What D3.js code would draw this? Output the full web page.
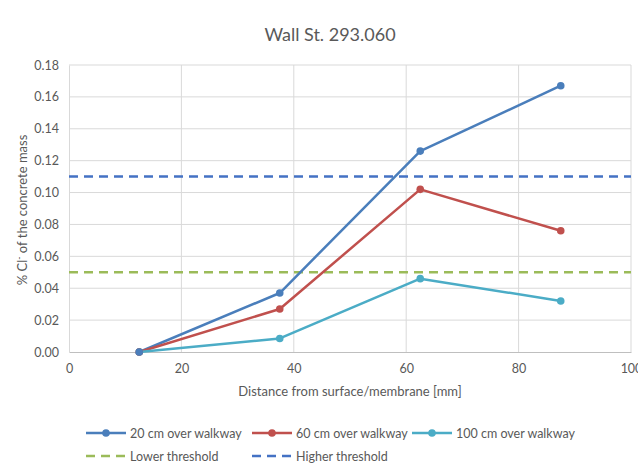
<!DOCTYPE html>
<html><head><meta charset="utf-8">
<script src="https://cdn.jsdelivr.net/npm/d3@7"></script>
<style>body{margin:0;background:#fff}svg{display:block;font-family:Lato,"Open Sans",sans-serif}</style>
</head><body>
<script>
const distances = [12.5, 37.5, 62.5, 87.5];
const s20 = [0.000, 0.037, 0.126, 0.167];
const s60 = [0.000, 0.027, 0.102, 0.076];
const s100 = [0.000, 0.0085, 0.046, 0.032];
const lowerThreshold = 0.05;
const higherThreshold = 0.11;
const xTicks = [0, 20, 40, 60, 80, 100];
const yTicks = [0, 0.02, 0.04, 0.06, 0.08, 0.10, 0.12, 0.14, 0.16, 0.18];
const seriesNames = ["20 cm over walkway", "60 cm over walkway", "100 cm over walkway"];
const thresholdNames = ["Lower threshold", "Higher threshold"];

const W = 638, H = 464;
const svg = d3.select("body").append("svg").attr("width", W).attr("height", H);
const x = d3.scaleLinear().domain([0, 100]).range([69, 631]);
const y = d3.scaleLinear().domain([0, 0.18]).range([352, 65]);
const txt = "#595959", grid = "#d9d9d9";

// gridlines
svg.append("g").selectAll("line").data(yTicks.slice(1)).join("line")
  .attr("x1", x(0)).attr("x2", x(100)).attr("y1", d => y(d)).attr("y2", d => y(d))
  .attr("stroke", grid).attr("stroke-width", 1);
svg.append("g").selectAll("line").data(xTicks.slice(1)).join("line")
  .attr("x1", d => x(d)).attr("x2", d => x(d)).attr("y1", y(0)).attr("y2", y(0.18))
  .attr("stroke", grid).attr("stroke-width", 1);

// axes
const xa = svg.append("g").attr("transform", `translate(0,${y(0)})`)
  .call(d3.axisBottom(x).tickValues(xTicks).tickSize(0).tickPadding(12).tickFormat(d3.format("d")));
xa.select(".domain").attr("stroke", "#bfbfbf");
const ya = svg.append("g").attr("transform", `translate(${x(0)},0)`)
  .call(d3.axisLeft(y).tickValues(yTicks).tickSize(0).tickPadding(10).tickFormat(d3.format(".2f")));
ya.select(".domain").attr("stroke", "#d9d9d9");
svg.selectAll(".tick text").attr("fill", txt).attr("font-size", 12.5).attr("font-family", "Lato, sans-serif");

// titles
svg.append("text").attr("x", 330).attr("y", 41).attr("text-anchor", "middle")
  .attr("fill", txt).attr("font-size", 18).text("Wall St. 293.060");
svg.append("text").attr("x", 350).attr("y", 396).attr("text-anchor", "middle")
  .attr("fill", txt).attr("font-size", 13).text("Distance from surface/membrane [mm]");
const yl = svg.append("text").attr("transform", `translate(27,${210}) rotate(-90)`)
  .attr("text-anchor", "middle").attr("fill", txt).attr("font-size", 13);
yl.append("tspan").text("% Cl");
yl.append("tspan").attr("dy", -5).attr("font-size", 9).text("-");
yl.append("tspan").attr("dy", 5).text(" of the concrete mass");

// thresholds
const thresholds = [
  {v: lowerThreshold, c: "#9bbb59"},
  {v: higherThreshold, c: "#4472c4"}
];
svg.append("g").selectAll("line").data(thresholds).join("line")
  .attr("x1", x(0)).attr("x2", x(100)).attr("y1", d => y(d.v)).attr("y2", d => y(d.v))
  .attr("stroke", d => d.c).attr("stroke-width", 2.5).attr("stroke-dasharray", "9,6");

// series
const colors = ["#4a7ebb", "#c0504d", "#4bacc6"];
const series = [s20, s60, s100];
const line = d3.line().x((d, i) => x(distances[i])).y(d => y(d));
series.forEach((s, k) => {
  svg.append("path").datum(s).attr("d", line).attr("fill", "none")
    .attr("stroke", colors[k]).attr("stroke-width", 2.5).attr("stroke-linejoin", "round");
});
[2, 1, 0].forEach(k => {
  svg.append("g").selectAll("circle").data(series[k]).join("circle")
    .attr("cx", (d, i) => x(distances[i])).attr("cy", d => y(d)).attr("r", 3.8)
    .attr("fill", colors[k]);
});

// legend
const leg = svg.append("g").attr("font-size", 12.5).attr("fill", txt);
const lx = [86, 252, 412];
seriesNames.forEach((n, k) => {
  const yy = 433;
  leg.append("line").attr("x1", lx[k]).attr("x2", lx[k] + 40).attr("y1", yy).attr("y2", yy)
    .attr("stroke", colors[k]).attr("stroke-width", 2.5);
  leg.append("circle").attr("cx", lx[k] + 20).attr("cy", yy).attr("r", 3.8).attr("fill", colors[k]);
  leg.append("text").attr("x", lx[k] + 44).attr("y", yy + 4.5).attr("fill", txt).text(n);
});
thresholdNames.forEach((n, k) => {
  const yy = 456;
  leg.append("line").attr("x1", lx[k]).attr("x2", lx[k] + 40).attr("y1", yy).attr("y2", yy)
    .attr("stroke", thresholds[k].c).attr("stroke-width", 2.5).attr("stroke-dasharray", "9,6");
  leg.append("text").attr("x", lx[k] + 44).attr("y", yy + 4.5).attr("fill", txt).text(n);
});
</script>
</body></html>
